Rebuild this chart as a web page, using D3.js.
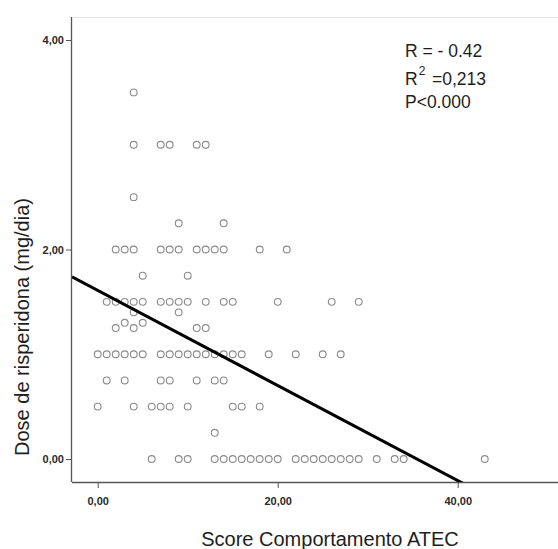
<!DOCTYPE html>
<html>
<head>
<meta charset="utf-8">
<script src="https://cdn.jsdelivr.net/npm/d3@7"></script>
<style>
  html, body { margin: 0; padding: 0; background: #fff; }
  svg { display: block; }
  text { font-family: "Liberation Sans", Arial, sans-serif; }
</style>
</head>
<body>
<svg id="chart" width="558" height="549"></svg>
<script>
// ---- Data ----
const xTicks = [0, 20, 40];
const xTickLabels = ["0,00", "20,00", "40,00"];
const yTicks = [0, 2, 4];
const yTickLabels = ["0,00", "2,00", "4,00"];

// dose levels (mg/dia) and ATEC scores of the children at each level
const doseLevels = [0, 0.25, 0.5, 0.75, 1.0, 1.25, 1.3, 1.4, 1.5, 1.75, 2.0, 2.25, 2.5, 3.0, 3.5];
const scoresDose000 = [6, 9, 10, 13, 14, 15, 16, 17, 18, 19, 20, 22, 23, 24, 25, 26, 27, 28, 29, 31, 33, 34, 43];
const scoresDose025 = [13];
const scoresDose050 = [0, 4, 6, 7, 8, 10, 15, 16, 18];
const scoresDose075 = [1, 3, 7, 8, 11, 13, 14];
const scoresDose100 = [0, 1, 2, 3, 4, 5, 7, 8, 9, 10, 11, 12, 13, 14, 15, 16, 19, 22, 25, 27];
const scoresDose125 = [2, 4, 11, 12];
const scoresDose130 = [3, 5];
const scoresDose140 = [4, 9];
const scoresDose150 = [1, 2, 3, 4, 5, 7, 8, 9, 10, 12, 14, 15, 20, 26, 29];
const scoresDose175 = [5, 10];
const scoresDose200 = [2, 3, 4, 7, 8, 9, 11, 12, 13, 14, 18, 21];
const scoresDose225 = [9, 14];
const scoresDose250 = [4];
const scoresDose300 = [4, 7, 8, 11, 12];
const scoresDose350 = [4];
const scoresByDose = [scoresDose000, scoresDose025, scoresDose050, scoresDose075, scoresDose100,
  scoresDose125, scoresDose130, scoresDose140, scoresDose150, scoresDose175, scoresDose200,
  scoresDose225, scoresDose250, scoresDose300, scoresDose350];

// linear fit
const fitIntercept = 1.61;
const fitSlope = -0.0454;

const annotationLines = ["R = - 0.42", "=0,213", "P<0.000"];
const xTitle = "Score Comportamento ATEC";
const yTitle = "Dose de risperidona (mg/dia)";

// ---- Build points ----
const points = [];
doseLevels.forEach((d, i) => scoresByDose[i].forEach(s => points.push({ x: s, y: d })));

// ---- Layout ----
const svg = d3.select("#chart");
const plot = { left: 72, right: 558, top: 17, bottom: 482 };

const x = d3.scaleLinear().domain([-2.856, 51.14]).range([plot.left, plot.right]);
const y = d3.scaleLinear().domain([-0.2196, 4.2196]).range([plot.bottom, plot.top]);

// top frame (faint)
svg.append("line")
  .attr("x1", plot.left).attr("x2", plot.right)
  .attr("y1", plot.top + 0.5).attr("y2", plot.top + 0.5)
  .attr("stroke", "#e2e2e2").attr("stroke-width", 1);

// axes
const xAxis = d3.axisBottom(x).tickValues(xTicks).tickFormat((d, i) => xTickLabels[i]).tickSize(6).tickSizeOuter(0);
const yAxis = d3.axisLeft(y).tickValues(yTicks).tickFormat((d, i) => yTickLabels[i]).tickSize(6).tickSizeOuter(0);

const gx = svg.append("g").attr("transform", `translate(0,${plot.bottom})`).call(xAxis);
gx.select(".domain").attr("d", `M${plot.left},0.5H${plot.right}`);
const gy = svg.append("g").attr("transform", `translate(${plot.left},0)`).call(yAxis);
gy.select(".domain").attr("d", `M-0.5,${plot.top}V${plot.bottom}`);

[gx, gy].forEach(g => {
  g.selectAll(".domain").attr("stroke", "#555").attr("stroke-width", 1.3);
  g.selectAll(".tick line").attr("stroke", "#555").attr("stroke-width", 1);
  g.selectAll(".tick text").attr("fill", "#2a2a2a").attr("font-size", 11)
    .attr("font-family", '"Liberation Sans", Arial, sans-serif').attr("font-weight", "bold");
});
gx.selectAll(".tick text").attr("dy", "1.25em");
gy.selectAll(".tick text").attr("x", -8);

// clip
svg.append("clipPath").attr("id", "plotclip").append("rect")
  .attr("x", plot.left).attr("y", plot.top)
  .attr("width", plot.right - plot.left).attr("height", plot.bottom - plot.top);

// points
svg.append("g").selectAll("circle").data(points).enter().append("circle")
  .attr("cx", d => x(d.x)).attr("cy", d => y(d.y)).attr("r", 3.4)
  .attr("fill", "none").attr("stroke", "#8a8a8a").attr("stroke-width", 1.1);

// regression line
const xd = x.domain();
svg.append("line")
  .attr("clip-path", "url(#plotclip)")
  .attr("x1", x(xd[0])).attr("y1", y(fitIntercept + fitSlope * xd[0]))
  .attr("x2", x(xd[1])).attr("y2", y(fitIntercept + fitSlope * xd[1]))
  .attr("stroke", "#000").attr("stroke-width", 3);

// annotation
const ann = svg.append("g").attr("fill", "#1e1e1e").attr("font-size", 17.5);
ann.append("text").attr("x", 405).attr("y", 57).text(annotationLines[0]);
const r2 = ann.append("text").attr("x", 405).attr("y", 85);
r2.append("tspan").text("R");
r2.append("tspan").attr("dx", 1).attr("dy", -10).attr("font-size", 12).text("2");
r2.append("tspan").attr("x", 432).attr("dy", 10).text(annotationLines[1]);
ann.append("text").attr("x", 405).attr("y", 108).text(annotationLines[2]);

// axis titles
svg.append("text").attr("x", 330).attr("y", 546).attr("text-anchor", "middle")
  .attr("font-size", 20).attr("fill", "#1e1e1e").text(xTitle);
svg.append("text").attr("transform", "translate(29,327) rotate(-90)").attr("text-anchor", "middle")
  .attr("font-size", 20).attr("fill", "#1e1e1e").text(yTitle);
</script>
</body>
</html>
